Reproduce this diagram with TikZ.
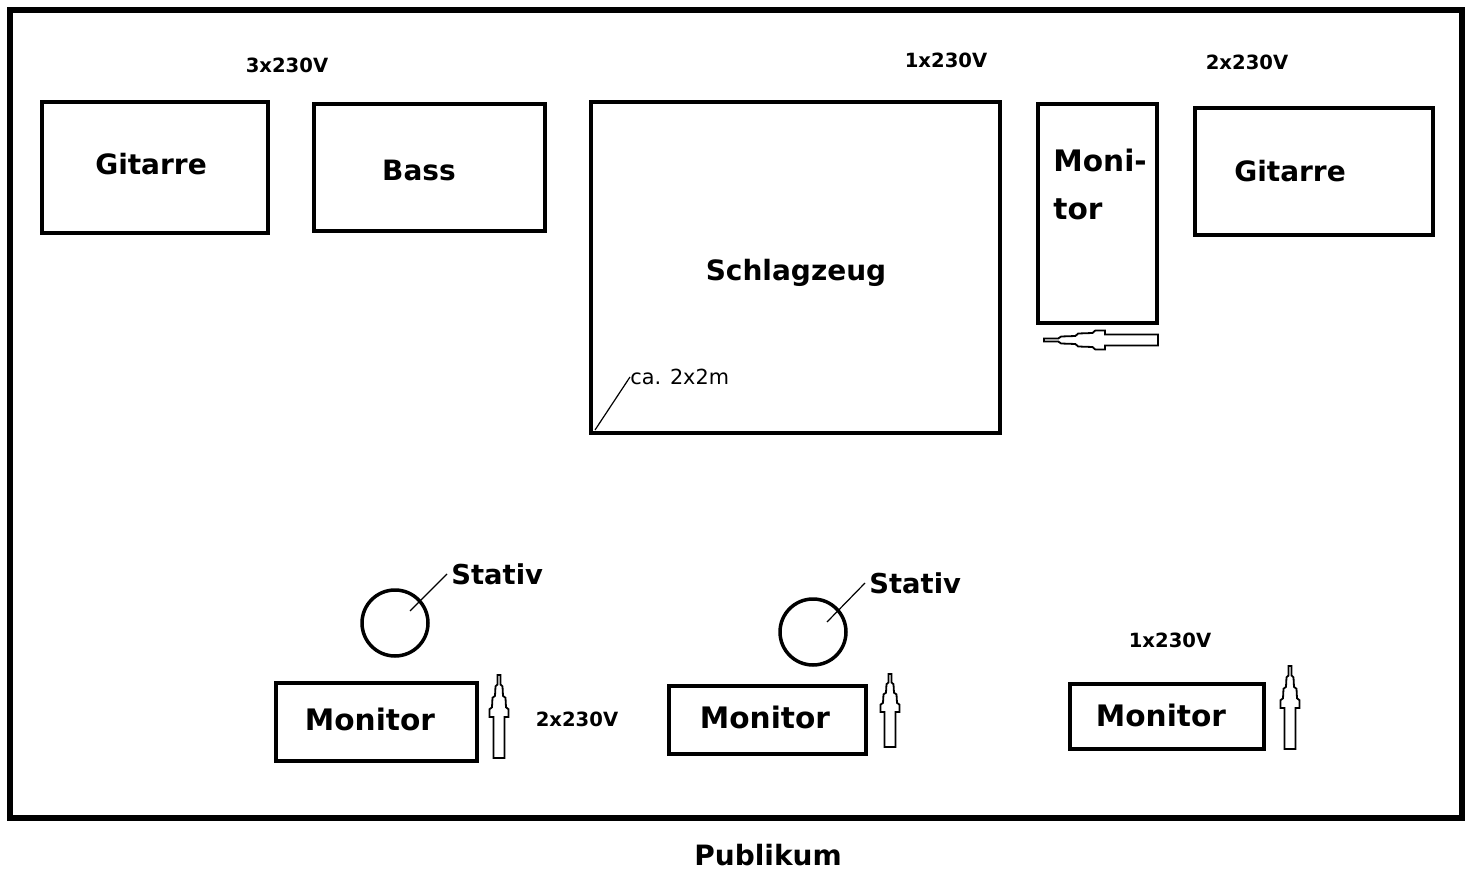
\documentclass[tikz,border=0pt]{standalone}
\usepackage{fontspec}
\setmainfont{DejaVu Sans}
\usetikzlibrary{fit}
\begin{document}
\begin{tikzpicture}[x=0.5pt,y=-0.5pt,
  box/.style={draw,line width=1.75pt,inner sep=0pt},
  frame/.style={draw,line width=2.8pt,inner sep=0pt},
  big/.style={font=\bfseries\fontsize{14}{16}\selectfont,inner sep=0pt},
  mon/.style={font=\bfseries\fontsize{14.8}{17}\selectfont,inner sep=0pt},
  small/.style={font=\bfseries\fontsize{9.8}{12}\selectfont,inner sep=0pt},
  note/.style={font=\fontsize{10.4}{12}\selectfont,inner sep=0pt},
  stand/.style={circle,draw,line width=1.75pt,minimum size=33pt,inner sep=0pt},
  leader/.style={line width=0.6pt},
  pics/harrow/.style 2 args={code={
    \draw[line width=0.9pt,fill=white]
      (-1.5,0) -- (1.5,0) -- (1.5,0.25*#1) -- (3.5,0.3*#1) -- (4,0.55*#1) -- (6.5,0.6*#1) -- (7,0.85*#1)
      -- (9.5,0.9*#1) -- (9.5,#1+4) -- (5.5,#1+4) -- (5.5,#2) -- (-5.5,#2) -- (-5.5,#1+4) -- (-9.5,#1+4) -- (-9.5,0.9*#1)
      -- (-7,0.85*#1) -- (-6.5,0.6*#1) -- (-4,0.55*#1) -- (-3.5,0.3*#1) -- (-1.5,0.25*#1) -- cycle;
  }}]
\useasboundingbox (0,0) rectangle (1469,872);

\node[frame,fit={(10,10)(1462,818)}] (stage) {};

% back line
\node[box,fit={(42,102)(268,233)}] (git1) {};
\node[big] (git1t) at (151,164) {Gitarre};
\node[box,fit={(314,104)(545,231)}] (bass) {};
\node[big] (basst) at (419,170) {Bass};
\node[box,fit={(591,102)(1000,433)}] (drum) {};
\node[big] (drumt) at (796,273) {Schlagzeug};
\node[box,fit={(1038,104)(1157,323)}] (mon0) {};
\node[mon,anchor=west] (mon0a) at (1053,160) {Moni-};
\node[mon,anchor=west] (mon0b) at (1053,209) {tor};
\node[box,fit={(1195,108)(1433,235)}] (git2) {};
\node[big] (git2t) at (1290,171) {Gitarre};

% power labels
\node[small] (p1) at (287,65) {3x230V};
\node[small] (p2) at (946,60) {1x230V};
\node[small] (p3) at (1247,62) {2x230V};
\node[small] (p4) at (577,719) {2x230V};
\node[small] (p5) at (1170,640) {1x230V};

% drum size note
\node[note,anchor=west] (size) at (630,377) {ca. 2x2m};
\coordinate (sizea) at (595,430);
\draw[leader] (sizea) -- (size.west);

% stands
\node[stand] (st1) at (395,623) {};
\node[big,font=\bfseries\fontsize{13.7}{16}\selectfont,anchor=west] (st1t) at (451,574) {Stativ};
\coordinate (st1a) at (410,611);
\draw[leader] (st1a) -- ([xshift=-2pt]st1t.west);
\node[stand] (st2) at (813,632) {};
\node[big,font=\bfseries\fontsize{13.7}{16}\selectfont,anchor=west] (st2t) at (869,583) {Stativ};
\coordinate (st2a) at (827,622);
\draw[leader] (st2a) -- ([xshift=-2pt]st2t.west);

% front monitors
\node[box,fit={(276,683)(477,761)}] (mon1) {};
\node[mon] (mon1t) at (370,719) {Monitor};
\node[box,fit={(669,686)(866,754)}] (mon2) {};
\node[mon] (mon2t) at (765,717) {Monitor};
\node[box,fit={(1070,684)(1264,749)}] (mon3) {};
\node[mon] (mon3t) at (1161,715) {Monitor};

% direction arrows
\pic (ar1) at (499,675) {harrow={38}{83}};
\pic (ar2) at (890,674) {harrow={34}{73}};
\pic (ar3) at (1290,666) {harrow={38}{83}};
\pic[rotate=90] (ar0) at (1044,340) {harrow={57}{114}};

\node[big] (pub) at (768,855) {Publikum};
\end{tikzpicture}
\end{document}
